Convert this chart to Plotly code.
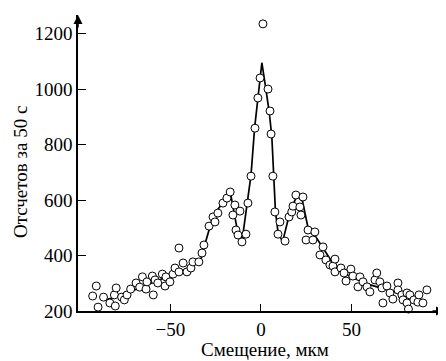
import plotly.graph_objects as go

# Measured points (displacement, counts)
pts_x = [-93, -91, -90, -87, -83.5, -81, -80.5, -80, -77, -75.5, -74, -72, -69, -67,
         -65.5, -63.5, -63, -60, -59.5, -58.5, -57, -54.5, -53, -52.5, -50.3, -48.6,
         -47.5, -45.3, -45.3, -43, -40.9, -38.7, -37.6, -34.3, -32.6, -31.5, -28.7,
         -26.5, -25.4, -23.8, -21, -18.8, -17, -15.5, -14.4, -13.8, -12.7, -11.6,
         -10.5, -8.3, -7.2, -5.5, -3.3, -1.7, -0.5, 1.1, 3.9, 5.0, 5.6, 6.6, 7.7,
         9.4, 10.5, 13.3, 15.5, 17.0, 17.7, 19.3, 21.5, 22.1, 23.2, 24.9, 26.0,
         28.7, 29.8, 32.6, 34.3, 35.9, 38.1, 39.8, 40.9, 40.9, 44.2, 45.9, 47.0,
         49.7, 50.8, 53.6, 54.7, 56.4, 58.6, 60.2, 63.0, 64.0, 65.7, 66.9, 67.4,
         69.6, 71.3, 72.9, 75.7, 75.7, 77.9, 78.5, 80.7, 80.7, 81.5, 82.3, 84.5,
         86.7, 87.3, 89.5, 91.7]
pts_y = [254, 290, 214, 250, 229, 258, 218, 283, 250, 240, 258, 279, 301, 286,
         323, 279, 305, 326, 258, 312, 301, 333, 290, 323, 305, 333,
         355, 427, 341, 373, 341, 355, 377, 377, 409, 438, 506,
         539, 521, 553, 589, 607, 629, 546, 582, 492, 474, 560,
         449, 477, 589, 686, 859, 968, 1040, 1235, 1000, 921, 838, 686, 557,
         477, 521, 452, 539, 557, 578, 618, 575, 546, 611, 456, 492,
         456, 485, 402, 431, 384, 366, 362, 387, 341, 355, 337, 308,
         351, 326, 287, 323, 305, 287, 269, 312, 337, 305, 283, 229,
         290, 265, 243, 301, 276, 258, 240, 265, 229, 207, 258, 240,
         232, 258, 229, 276]

# Fitted curve
fit_x = [-86, -80, -75, -70, -65, -60, -55, -50, -45, -40, -36, -33, -31, -27,
         -24, -21, -17, -13, -10.5, -7.5, -5.5, -3.5, -1.5, 0.5, 2.5, 4.5, 6,
         7, 8, 9.5, 12, 15, 17.5, 20, 23, 26, 30, 35, 40, 45, 50, 55, 60, 65,
         70, 75, 80, 86]
fit_y = [240, 250, 262, 275, 290, 303, 315, 328, 340, 355, 370, 390, 440, 530,
         565, 590, 630, 490, 450, 590, 690, 860, 990, 1095, 1010, 920, 830,
         686, 560, 480, 450, 530, 580, 618, 595, 500, 470, 420, 370, 340, 322,
         308, 295, 285, 277, 265, 255, 245]

x_ticks = [-50, 0, 50]
x_ticktext = ["\u221250", "0", "50"]
y_ticks = [200, 400, 600, 800, 1000, 1200]

font = "Liberation Serif"

fig = go.Figure()
fig.add_trace(go.Scatter(x=fit_x, y=fit_y, mode="lines",
                         line=dict(color="black", width=1.7),
                         hoverinfo="skip", showlegend=False))
fig.add_trace(go.Scatter(x=pts_x, y=pts_y, mode="markers",
                         marker=dict(symbol="circle", size=8, color="white",
                                     line=dict(color="black", width=1)),
                         cliponaxis=False, showlegend=False))

# The page body has an 8px margin, so the figure is 8px smaller and shifted.
fig.update_layout(
    width=438, height=353,
    margin=dict(l=70, r=1, t=7, b=50),
    paper_bgcolor="white", plot_bgcolor="white",
    font=dict(family=font, size=19, color="black"),
    xaxis=dict(range=[-101.1, 101.7], showgrid=False, zeroline=False,
               showline=True, linecolor="black", linewidth=1.5,
               ticks="inside", ticklen=7, tickwidth=1.2, tickcolor="black",
               tickvals=x_ticks, ticktext=x_ticktext,
               tickfont=dict(family=font, size=19)),
    yaxis=dict(range=[200, 1267], showgrid=False, zeroline=False,
               showline=True, linecolor="black", linewidth=1.5,
               ticks="inside", ticklen=8, tickwidth=1.2, tickcolor="black",
               tickvals=y_ticks,
               tickfont=dict(family=font, size=19)),
    annotations=[
        dict(x=1, y=0, xref="paper", yref="paper", ax=-14, ay=0,
             showarrow=True, arrowhead=2, arrowsize=1.2, arrowwidth=1.5,
             arrowcolor="black", text=""),
        dict(x=0, y=1, xref="paper", yref="paper", ax=0, ay=14,
             showarrow=True, arrowhead=2, arrowsize=1.2, arrowwidth=1.5,
             arrowcolor="black", text=""),
        dict(x=(265 - 78) / 367, y=(311 - 349) / 296, xref="paper", yref="paper",
             text="Смещение, мкм", showarrow=False,
             xanchor="center", yanchor="middle",
             font=dict(family=font, size=19)),
        dict(x=(20 - 78) / 367, y=(311 - 172) / 296, xref="paper", yref="paper",
             text="Отсчетов за 50 с", showarrow=False, textangle=-90,
             xanchor="center", yanchor="middle",
             font=dict(family=font, size=19)),
    ],
)

fig.write_html("out.html")
